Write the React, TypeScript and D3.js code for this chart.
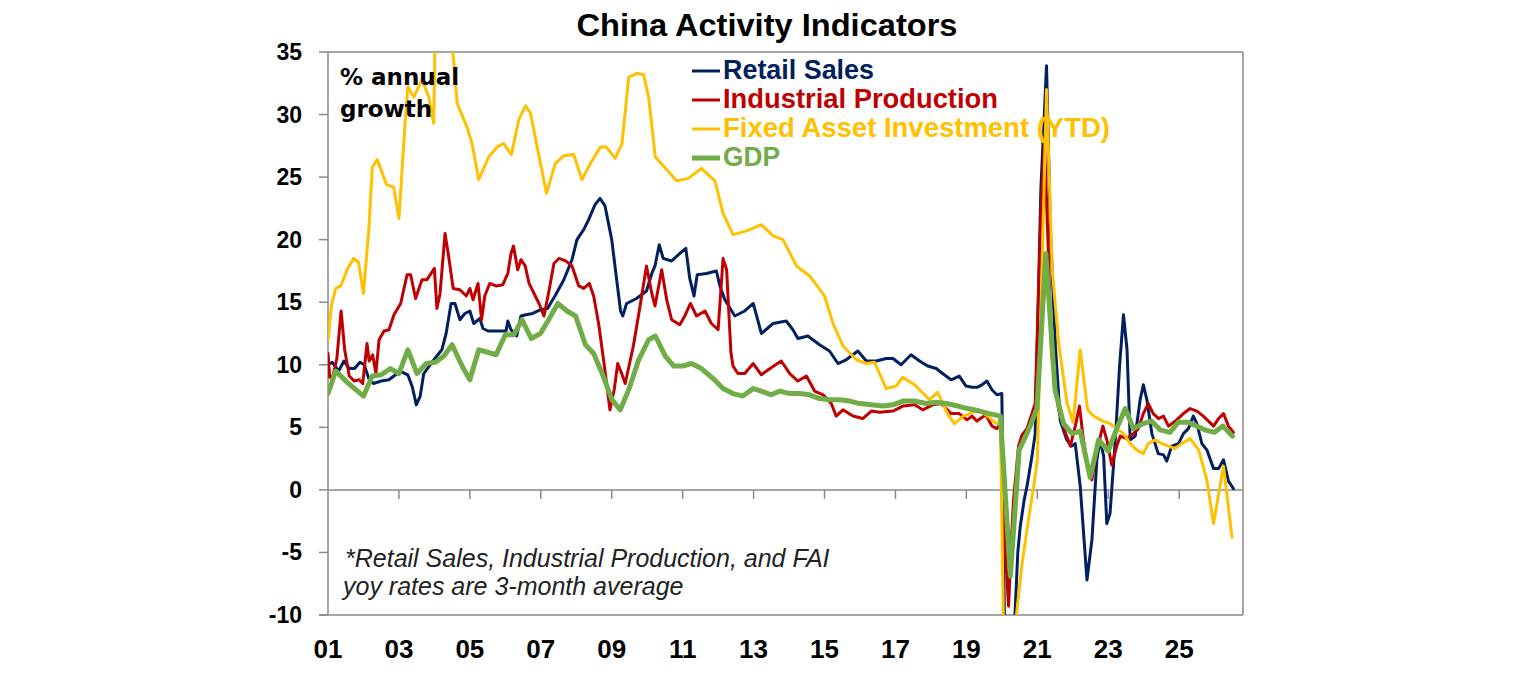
import React from "react";
import * as d3 from "d3";

// ---- Data (decimal year, % y/y) ----
const retailSales: [number, number][] = [
  [2001.0,10.0],[2001.12,10.2],[2001.3,9.5],[2001.45,10.3],[2001.6,9.7],[2001.75,9.7],[2001.9,10.2],[2002.02,10.0],[2002.15,8.9],[2002.28,8.5],[2002.5,8.7],[2002.72,8.8],[2002.95,9.3],[2003.1,9.4],[2003.25,9.2],[2003.38,8.2],[2003.49,6.8],[2003.6,7.5],[2003.7,9.3],[2003.88,10.0],[2004.07,10.7],[2004.21,11.2],[2004.33,12.5],[2004.47,14.9],[2004.58,14.9],[2004.72,13.6],[2004.86,14.1],[2005.0,14.3],[2005.11,13.3],[2005.28,13.7],[2005.37,12.9],[2005.51,12.7],[2005.74,12.7],[2006.02,12.7],[2006.07,13.5],[2006.16,12.8],[2006.32,12.3],[2006.44,13.9],[2006.58,14.0],[2006.77,14.1],[2007.0,14.4],[2007.19,14.5],[2007.42,15.6],[2007.65,16.8],[2007.88,18.4],[2008.02,20.0],[2008.21,20.8],[2008.35,21.6],[2008.53,22.8],[2008.67,23.3],[2008.81,22.7],[2009.0,20.0],[2009.14,16.8],[2009.25,14.3],[2009.31,13.9],[2009.42,14.9],[2009.7,15.3],[2009.98,15.9],[2010.13,17.3],[2010.22,17.9],[2010.34,19.6],[2010.45,18.5],[2010.69,18.3],[2010.92,18.9],[2011.09,19.3],[2011.2,16.9],[2011.32,15.5],[2011.41,17.2],[2011.67,17.3],[2011.95,17.5],[2012.05,16.3],[2012.19,15.2],[2012.47,13.9],[2012.75,14.3],[2012.99,14.9],[2013.22,12.5],[2013.55,13.3],[2013.92,13.5],[2014.11,12.8],[2014.25,12.1],[2014.53,12.3],[2014.86,11.6],[2015.14,11.1],[2015.38,10.1],[2015.61,10.4],[2015.94,11.1],[2016.18,10.3],[2016.46,10.3],[2016.74,10.5],[2016.93,10.5],[2017.16,10.0],[2017.44,10.8],[2017.68,10.3],[2017.91,9.9],[2018.15,9.7],[2018.33,9.3],[2018.57,8.8],[2018.8,9.1],[2018.99,8.3],[2019.16,8.2],[2019.3,8.2],[2019.44,8.4],[2019.58,8.7],[2019.72,8.0],[2019.86,7.6],[2020.0,7.7],[2020.08,-12],[2020.17,-19],[2020.25,-15],[2020.37,-10],[2020.45,-5],[2020.52,-2.9],[2020.63,-0.8],[2020.71,0.3],[2020.85,2.7],[2020.94,4.5],[2021.1,24],[2021.26,33.9],[2021.37,20.7],[2021.51,11.5],[2021.65,5.5],[2021.83,4.0],[2021.97,3.5],[2022.07,3.7],[2022.21,0.3],[2022.4,-7.2],[2022.54,-4.0],[2022.68,2.4],[2022.77,4.0],[2022.87,2.7],[2022.96,-2.7],[2023.05,-1.9],[2023.2,4.0],[2023.32,9.9],[2023.43,14.0],[2023.53,11.2],[2023.62,4.0],[2023.76,4.3],[2023.9,7.2],[2023.99,8.4],[2024.09,7.2],[2024.23,4.5],[2024.41,2.9],[2024.56,2.8],[2024.65,2.3],[2024.79,3.5],[2024.98,3.7],[2025.12,4.5],[2025.26,4.9],[2025.4,5.9],[2025.5,5.3],[2025.64,3.7],[2025.78,3.2],[2025.97,1.7],[2026.11,1.7],[2026.25,2.4],[2026.39,0.7],[2026.53,0.1]
];

const industrialProduction: [number, number][] = [
  [2001.0,10.9],[2001.05,9.0],[2001.14,9.1],[2001.25,10.5],[2001.37,14.3],[2001.47,11.2],[2001.6,9.1],[2001.74,8.7],[2001.88,8.8],[2001.98,8.5],[2002.1,11.7],[2002.16,10.3],[2002.26,10.8],[2002.35,9.3],[2002.44,12.0],[2002.58,12.7],[2002.72,12.8],[2002.86,14.0],[2003.05,14.9],[2003.23,17.2],[2003.33,17.2],[2003.47,15.3],[2003.65,16.8],[2003.79,16.8],[2004.0,17.7],[2004.07,14.5],[2004.16,15.7],[2004.3,20.5],[2004.4,18.7],[2004.53,16.1],[2004.72,16.0],[2004.9,15.5],[2005.0,16.1],[2005.09,15.2],[2005.23,16.5],[2005.33,13.6],[2005.42,15.5],[2005.56,16.5],[2005.74,16.3],[2005.93,16.4],[2006.07,17.3],[2006.16,18.9],[2006.23,19.5],[2006.35,17.6],[2006.44,18.4],[2006.56,17.9],[2006.67,16.5],[2006.81,15.7],[2006.95,14.9],[2007.09,13.9],[2007.23,15.9],[2007.37,18.1],[2007.51,18.5],[2007.7,18.3],[2007.88,17.9],[2008.07,16.3],[2008.21,16.1],[2008.37,16.5],[2008.49,15.5],[2008.63,13.3],[2008.77,10.4],[2008.95,6.4],[2009.07,8.0],[2009.17,10.1],[2009.28,9.3],[2009.38,8.5],[2009.61,11.5],[2009.8,14.7],[2009.98,17.9],[2010.13,15.7],[2010.22,14.7],[2010.41,17.6],[2010.55,15.2],[2010.69,13.6],[2010.92,13.2],[2011.06,13.9],[2011.22,14.9],[2011.39,13.9],[2011.63,14.3],[2011.81,13.3],[2012.0,12.8],[2012.14,18.5],[2012.24,17.6],[2012.36,11.0],[2012.42,9.9],[2012.56,9.3],[2012.75,9.3],[2012.99,10.1],[2013.22,9.2],[2013.41,9.6],[2013.78,10.3],[2014.02,9.3],[2014.25,8.7],[2014.49,9.1],[2014.72,7.9],[2014.96,7.6],[2015.19,6.9],[2015.33,5.9],[2015.52,6.4],[2015.8,5.9],[2016.08,5.7],[2016.32,6.3],[2016.55,6.2],[2016.93,6.3],[2017.21,6.7],[2017.54,6.8],[2017.77,6.4],[2018.05,6.8],[2018.29,6.9],[2018.57,6.1],[2018.8,6.1],[2019.02,5.6],[2019.16,5.9],[2019.3,5.5],[2019.55,6.0],[2019.72,5.1],[2019.86,4.9],[2019.96,5.3],[2020.08,-4.0],[2020.19,-9.3],[2020.27,-4.0],[2020.33,-0.8],[2020.47,3.5],[2020.57,4.4],[2020.71,4.9],[2020.85,6.1],[2020.94,6.9],[2021.1,22.0],[2021.2,28.0],[2021.3,20.0],[2021.4,11.0],[2021.5,8.5],[2021.6,6.4],[2021.8,4.5],[2021.93,3.5],[2022.07,5.1],[2022.19,6.7],[2022.3,4.0],[2022.44,1.6],[2022.54,0.8],[2022.68,3.2],[2022.85,5.1],[2022.96,4.0],[2023.1,2.0],[2023.24,3.5],[2023.34,4.3],[2023.53,4.1],[2023.71,4.5],[2023.85,4.9],[2023.99,6.1],[2024.13,6.9],[2024.27,6.1],[2024.42,5.7],[2024.56,5.9],[2024.7,5.1],[2024.93,5.6],[2025.12,6.1],[2025.31,6.5],[2025.5,6.3],[2025.68,5.9],[2025.97,5.1],[2026.11,5.7],[2026.25,6.1],[2026.39,5.1],[2026.53,4.6]
];

const fixedAssetInvestment: [number, number][] = [
  [2001.0,12.0],[2001.1,14.8],[2001.22,16.1],[2001.36,16.3],[2001.54,17.6],[2001.72,18.5],[2001.86,18.2],[2002.0,15.7],[2002.15,20.8],[2002.25,25.8],[2002.39,26.4],[2002.53,25.3],[2002.65,24.4],[2002.85,24.2],[2003.0,21.7],[2003.18,29.6],[2003.25,32.2],[2003.42,31.4],[2003.65,32.8],[2003.84,31.4],[2003.98,29.3],[2004.12,53.0],[2004.3,43.0],[2004.5,35.5],[2004.55,34.1],[2004.64,30.9],[2004.92,29.0],[2005.06,27.7],[2005.25,24.8],[2005.53,26.6],[2005.77,27.4],[2005.95,27.7],[2006.17,26.8],[2006.38,29.6],[2006.57,30.7],[2006.71,30.1],[2006.9,27.4],[2007.16,23.7],[2007.41,26.1],[2007.65,26.7],[2007.93,26.8],[2008.16,24.8],[2008.4,26.1],[2008.68,27.4],[2008.85,27.4],[2009.1,26.5],[2009.29,27.7],[2009.48,33.0],[2009.71,33.3],[2009.9,33.2],[2010.04,31.4],[2010.23,26.6],[2010.45,25.9],[2010.83,24.7],[2011.16,24.9],[2011.53,25.7],[2011.91,24.7],[2012.14,22.1],[2012.42,20.4],[2012.8,20.7],[2013.22,21.2],[2013.55,20.3],[2013.83,20.0],[2014.21,17.9],[2014.58,17.1],[2015.0,15.5],[2015.24,13.3],[2015.52,11.5],[2015.9,10.4],[2016.18,10.1],[2016.41,10.2],[2016.74,8.1],[2017.02,8.3],[2017.2,9.0],[2017.54,8.4],[2017.96,7.2],[2018.19,7.8],[2018.47,6.1],[2018.66,5.3],[2018.92,5.9],[2019.1,6.1],[2019.32,6.4],[2019.6,5.9],[2019.8,5.4],[2019.96,5.2],[2020.12,-24.5],[2020.2,-16.0],[2020.33,-12.0],[2020.42,-9.8],[2020.56,-6.1],[2020.75,-2.4],[2020.9,0.3],[2021.0,2.4],[2021.26,32.0],[2021.42,17.6],[2021.61,11.5],[2021.84,6.9],[2022.01,5.4],[2022.21,11.2],[2022.42,6.4],[2022.59,5.9],[2022.85,5.5],[2023.05,5.3],[2023.43,4.5],[2023.62,3.7],[2023.8,3.2],[2023.99,2.9],[2024.13,3.7],[2024.32,4.0],[2024.51,3.7],[2024.7,3.5],[2024.88,3.3],[2025.07,3.7],[2025.31,4.1],[2025.55,3.2],[2025.78,0.8],[2025.97,-2.7],[2026.25,1.9],[2026.49,-3.8]
];

const gdp: [number, number][] = [
  [2001.0,7.7],[2001.22,9.5],[2001.5,8.7],[2001.75,8.1],[2002.0,7.5],[2002.25,9.1],[2002.5,9.2],[2002.76,9.7],[2003.0,9.3],[2003.25,11.2],[2003.51,9.3],[2003.77,10.1],[2004.03,10.2],[2004.27,10.7],[2004.5,11.6],[2004.78,9.9],[2005.0,8.8],[2005.25,11.2],[2005.5,11.0],[2005.74,10.8],[2006.0,12.4],[2006.24,12.4],[2006.47,13.6],[2006.73,12.1],[2006.99,12.5],[2007.22,13.6],[2007.48,14.9],[2007.74,14.3],[2007.98,13.9],[2008.26,11.6],[2008.49,10.9],[2008.76,9.1],[2009.01,7.2],[2009.24,6.4],[2009.48,8.0],[2009.76,10.4],[2010.04,12.0],[2010.23,12.3],[2010.51,10.7],[2010.75,9.9],[2011.0,9.9],[2011.25,10.1],[2011.53,9.7],[2011.86,8.9],[2012.14,8.1],[2012.42,7.7],[2012.7,7.5],[2012.99,8.1],[2013.22,7.9],[2013.5,7.6],[2013.74,7.9],[2014.02,7.7],[2014.3,7.7],[2014.58,7.6],[2014.86,7.3],[2015.14,7.2],[2015.43,7.2],[2015.71,7.1],[2015.99,6.9],[2016.32,6.8],[2016.65,6.7],[2016.93,6.8],[2017.21,7.1],[2017.54,7.1],[2017.86,6.9],[2018.15,7.0],[2018.43,6.9],[2018.76,6.7],[2019.04,6.5],[2019.37,6.3],[2019.65,6.1],[2019.96,5.9],[2020.24,-6.9],[2020.49,3.2],[2020.74,4.7],[2020.99,6.5],[2021.24,18.9],[2021.5,8.0],[2021.74,5.3],[2021.98,4.5],[2022.21,4.7],[2022.49,1.0],[2022.73,4.0],[2023.0,3.1],[2023.24,4.9],[2023.48,6.5],[2023.71,4.9],[2023.99,5.3],[2024.22,5.5],[2024.46,4.8],[2024.74,4.6],[2024.97,5.4],[2025.25,5.4],[2025.49,5.1],[2025.72,4.8],[2026.0,4.6],[2026.23,5.1],[2026.5,4.3]
];

const yTicks = [35, 30, 25, 20, 15, 10, 5, 0, -5, -10];
const xTickYears = [2001, 2003, 2005, 2007, 2009, 2011, 2013, 2015, 2017, 2019, 2021, 2023, 2025];
const xTickLabels = ["01", "03", "05", "07", "09", "11", "13", "15", "17", "19", "21", "23", "25"];

const seriesNames = ["Retail Sales", "Industrial Production", "Fixed Asset Investment (YTD)", "GDP"];
const seriesColors = ["#002060", "#C00000", "#FFC000", "#70AD47"];
const seriesWidths = [3, 3, 3, 5];
const legendTextWidths = [151, 275, 387, 57];

const W = 1536, H = 680;
const L = 328, R = 1243, T = 52, B = 615;

export default function App() {
  const x = d3.scaleLinear().domain([2001, 2026.8]).range([L, R]);
  const y = d3.scaleLinear().domain([-10, 35]).range([B, T]);
  const line = d3.line<[number, number]>().x(d => x(d[0])).y(d => y(d[1]));
  const allSeries = [retailSales, industrialProduction, fixedAssetInvestment, gdp];
  const axisColor = "#898989";
  const bold = "'Liberation Sans', Arial, sans-serif";

  return (
    <svg width={W} height={H} style={{ position: "absolute", left: 0, top: 0, display: "block", background: "#fff" }}>
      <defs>
        <clipPath id="plot">
          <rect x={L} y={T} width={R - L} height={B - T} />
        </clipPath>
      </defs>
      <text x={767} y={36} textAnchor="middle" fontFamily={bold} fontWeight="bold" fontSize={32}
        textLength={381} lengthAdjust="spacingAndGlyphs" fill="#000">China Activity Indicators</text>

      {/* plot border */}
      <line x1={L} y1={T} x2={R} y2={T} stroke={axisColor} strokeWidth={1.5} />
      <line x1={R} y1={T} x2={R} y2={B} stroke={axisColor} strokeWidth={1.5} />
      <line x1={L - 9} y1={B} x2={R} y2={B} stroke={axisColor} strokeWidth={1.5} />
      <line x1={L} y1={T} x2={L} y2={B} stroke={axisColor} strokeWidth={1.5} />
      {/* zero axis */}
      <line x1={L} y1={y(0)} x2={R} y2={y(0)} stroke={axisColor} strokeWidth={1.5} />

      {yTicks.map(v => (
        <g key={v}>
          <line x1={L - 9} y1={y(v)} x2={L} y2={y(v)} stroke={axisColor} strokeWidth={1.5} />
          <text x={302} y={y(v) + 8} textAnchor="end" fontFamily={bold} fontWeight="bold" fontSize={23} fill="#000">{v}</text>
        </g>
      ))}
      {xTickYears.map((yr, i) => (
        <g key={yr}>
          {i > 0 && <line x1={x(yr)} y1={y(0)} x2={x(yr)} y2={y(0) + 9} stroke={axisColor} strokeWidth={1.5} />}
          <text x={x(yr)} y={658} textAnchor="middle" fontFamily={bold} fontWeight="bold" fontSize={26} fill="#000">{xTickLabels[i]}</text>
        </g>
      ))}

      <g clipPath="url(#plot)">
        {allSeries.map((s, i) => (
          <path key={i} d={line(s) || ""} fill="none" stroke={seriesColors[i]} strokeWidth={seriesWidths[i]}
            strokeLinejoin="round" strokeLinecap="round" />
        ))}
      </g>

      <text fontFamily="'DejaVu Sans', Verdana, sans-serif" fontWeight="bold" fontSize={23} fill="#000">
        <tspan x={340} y={85}>% annual</tspan>
        <tspan x={340} y={117}>growth</tspan>
      </text>

      {seriesNames.map((n, i) => {
        const by = 79 + i * 29;
        return (
          <g key={n}>
            <line x1={692} y1={by - 8} x2={720} y2={by - 8} stroke={seriesColors[i]} strokeWidth={seriesWidths[i]} />
            <text x={723} y={by} fontFamily={bold} fontWeight="bold" fontSize={27} fill={seriesColors[i]}
              textLength={legendTextWidths[i]} lengthAdjust="spacingAndGlyphs">{n}</text>
          </g>
        );
      })}

      <text fontFamily={bold} fontStyle="italic" fontSize={25} fill="#222">
        <tspan x={345} y={567}>*Retail Sales, Industrial Production, and FAI</tspan>
        <tspan x={343} y={595}>yoy rates are 3-month average</tspan>
      </text>
    </svg>
  );
}
